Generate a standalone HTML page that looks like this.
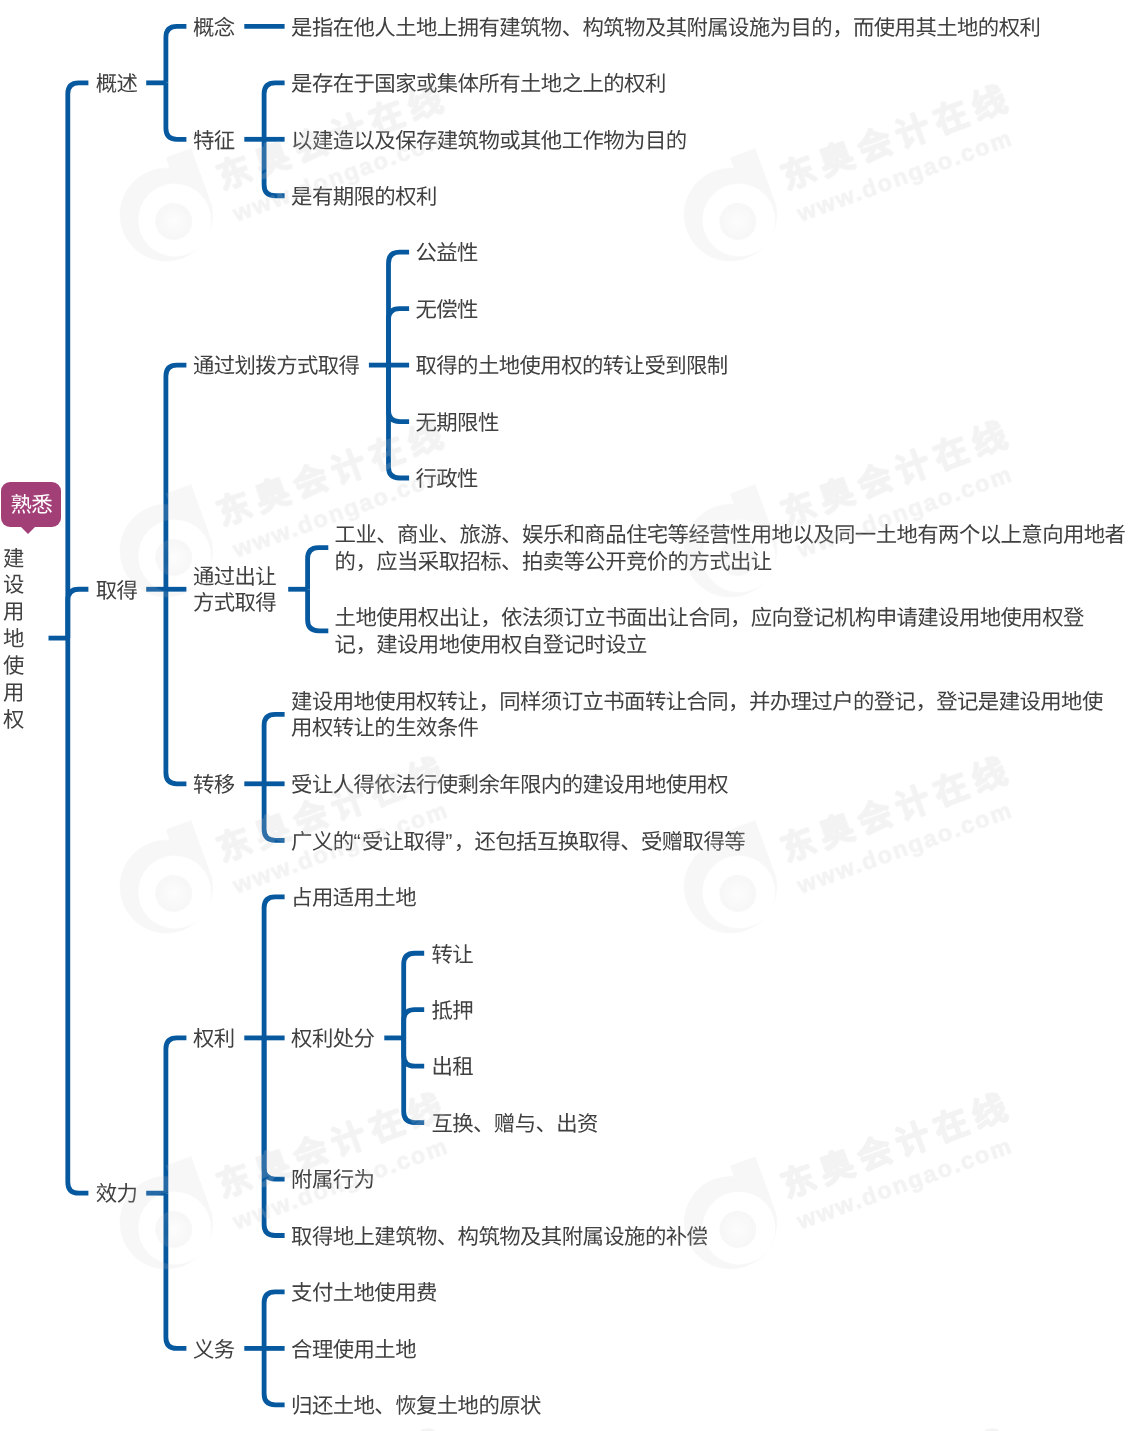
<!DOCTYPE html>
<html lang="zh-CN"><head><meta charset="utf-8"><title>建设用地使用权</title>
<style>
html,body{margin:0;padding:0;background:#fff;}
body{width:1131px;height:1431px;position:relative;overflow:hidden;font-family:"Liberation Sans",sans-serif;color:#404040;font-weight:normal;text-rendering:geometricPrecision;letter-spacing:-0.58px;}
svg{position:absolute;left:0;top:0;}
#txt{position:absolute;left:0;top:0;width:1131px;height:1431px;will-change:transform;}
.t{position:absolute;white-space:nowrap;font-size:21.4px;line-height:26.85px;transform:translateY(-50%);margin-top:1.3px;}
.root{position:absolute;left:3px;top:545.5px;width:21px;font-size:21.4px;line-height:26.85px;text-align:center;}
.badge{position:absolute;left:1.2px;top:482px;width:60px;height:44.6px;border-radius:9px;background:#A33F77;color:#fff;font-size:21.4px;line-height:47.2px;text-align:center;font-weight:normal;}
.badge:after{content:"";position:absolute;left:18.6px;top:44.2px;border-left:8px solid transparent;border-right:8px solid transparent;border-top:8.6px solid #A33F77;}
.q{letter-spacing:1.3px;}
.wm{z-index:5;pointer-events:none;}
</style></head><body>
<svg width="1131" height="1431" viewBox="0 0 1131 1431">
<g fill="none" stroke="#06589F" stroke-width="4.8">
<path d="M48.5 638.1H67.8"/>
<path d="M67.8 638.1V93.85Q67.8 82.85 78.8 82.85H88.4"/>
<path d="M67.8 638.1V600.25Q67.8 589.25 78.8 589.25H88.4"/>
<path d="M67.8 638.1V1182.16Q67.8 1193.16 78.8 1193.16H88.4"/>
<path d="M146.2 82.85H165.9"/>
<path d="M165.9 82.85V37.4Q165.9 26.4 176.9 26.4H186.4"/>
<path d="M165.9 82.85V128.3Q165.9 139.3 176.9 139.3H186.4"/>
<path d="M244.3 26.4H284.6"/>
<path d="M244.3 139.3H264.1"/>
<path d="M264.1 139.3V93.85Q264.1 82.85 275.1 82.85H284.6"/>
<path d="M264.1 139.3H284.6"/>
<path d="M264.1 139.3V184.75Q264.1 195.75 275.1 195.75H284.6"/>
<path d="M146.2 589.25H165.9"/>
<path d="M165.9 589.25V376.1Q165.9 365.1 176.9 365.1H186.4"/>
<path d="M165.9 589.25H186.4"/>
<path d="M165.9 589.25V772.8Q165.9 783.8 176.9 783.8H186.4"/>
<path d="M368.9 365.1H388.5"/>
<path d="M388.5 365.1V263.2Q388.5 252.2 399.5 252.2H409.1"/>
<path d="M388.5 365.1V319.65Q388.5 308.65 399.5 308.65H409.1"/>
<path d="M388.5 365.1H409.1"/>
<path d="M388.5 365.1V410.55Q388.5 421.55 399.5 421.55H409.1"/>
<path d="M388.5 365.1V467Q388.5 478 399.5 478H409.1"/>
<path d="M288.2 589.25H307.6"/>
<path d="M307.6 589.25V558.7Q307.6 547.7 318.6 547.7H328.3"/>
<path d="M307.6 589.25V619.8Q307.6 630.8 318.6 630.8H328.3"/>
<path d="M244.3 783.8H264.1"/>
<path d="M264.1 783.8V725.3Q264.1 714.3 275.1 714.3H284.6"/>
<path d="M264.1 783.8H284.6"/>
<path d="M264.1 783.8V829.3Q264.1 840.3 275.1 840.3H284.6"/>
<path d="M146.2 1193.16H165.9"/>
<path d="M165.9 1193.16V1048.92Q165.9 1037.92 176.9 1037.92H186.4"/>
<path d="M165.9 1193.16V1337.4Q165.9 1348.4 176.9 1348.4H186.4"/>
<path d="M244.3 1037.92H264.1"/>
<path d="M264.1 1037.92V907.8Q264.1 896.8 275.1 896.8H284.6"/>
<path d="M264.1 1037.92H284.6"/>
<path d="M264.1 1037.92V1168.05Q264.1 1179.05 275.1 1179.05H284.6"/>
<path d="M264.1 1037.92V1224.5Q264.1 1235.5 275.1 1235.5H284.6"/>
<path d="M384.3 1037.92H403.7"/>
<path d="M403.7 1037.92V964.25Q403.7 953.25 414.7 953.25H424.2"/>
<path d="M403.7 1037.92V1020.7Q403.7 1009.7 414.7 1009.7H424.2"/>
<path d="M403.7 1037.92V1055.15Q403.7 1066.15 414.7 1066.15H424.2"/>
<path d="M403.7 1037.92V1111.6Q403.7 1122.6 414.7 1122.6H424.2"/>
<path d="M244.3 1348.4H264.1"/>
<path d="M264.1 1348.4V1302.95Q264.1 1291.95 275.1 1291.95H284.6"/>
<path d="M264.1 1348.4H284.6"/>
<path d="M264.1 1348.4V1393.85Q264.1 1404.85 275.1 1404.85H284.6"/>
</g></svg>
<div id="txt">
<div class="badge">熟悉</div>
<div class="root">建<br>设<br>用<br>地<br>使<br>用<br>权</div>
<div class="t" style="left:95.8px;top:82.85px">概述</div>
<div class="t" style="left:95.8px;top:589.25px">取得</div>
<div class="t" style="left:95.8px;top:1193.16px">效力</div>
<div class="t" style="left:192.9px;top:26.4px">概念</div>
<div class="t" style="left:192.9px;top:139.3px">特征</div>
<div class="t" style="left:291.1px;top:26.4px">是指在他人土地上拥有建筑物、构筑物及其附属设施为目的，而使用其土地的权利</div>
<div class="t" style="left:291.1px;top:82.85px">是存在于国家或集体所有土地之上的权利</div>
<div class="t" style="left:291.1px;top:139.3px">以建造以及保存建筑物或其他工作物为目的</div>
<div class="t" style="left:291.1px;top:195.75px">是有期限的权利</div>
<div class="t" style="left:192.9px;top:365.1px">通过划拨方式取得</div>
<div class="t" style="left:415.5px;top:252.2px">公益性</div>
<div class="t" style="left:415.5px;top:308.65px">无偿性</div>
<div class="t" style="left:415.5px;top:365.1px">取得的土地使用权的转让受到限制</div>
<div class="t" style="left:415.5px;top:421.55px">无期限性</div>
<div class="t" style="left:415.5px;top:478px">行政性</div>
<div class="t" style="left:192.9px;top:589.25px">通过出让<br>方式取得</div>
<div class="t" style="left:334.6px;top:547.7px">工业、商业、旅游、娱乐和商品住宅等经营性用地以及同一土地有两个以上意向用地者<br>的，应当采取招标、拍卖等公开竞价的方式出让</div>
<div class="t" style="left:334.6px;top:630.8px">土地使用权出让，依法须订立书面出让合同，应向登记机构申请建设用地使用权登<br>记，建设用地使用权自登记时设立</div>
<div class="t" style="left:192.9px;top:783.8px">转移</div>
<div class="t" style="left:291.1px;top:714.3px">建设用地使用权转让，同样须订立书面转让合同，并办理过户的登记，登记是建设用地使<br>用权转让的生效条件</div>
<div class="t" style="left:291.1px;top:783.8px">受让人得依法行使剩余年限内的建设用地使用权</div>
<div class="t" style="left:291.1px;top:840.3px">广义的<span class="q">“</span>受让取得<span class="q">”</span>，还包括互换取得、受赠取得等</div>
<div class="t" style="left:192.9px;top:1037.92px">权利</div>
<div class="t" style="left:192.9px;top:1348.4px">义务</div>
<div class="t" style="left:291.1px;top:896.8px">占用适用土地</div>
<div class="t" style="left:291.1px;top:1037.92px">权利处分</div>
<div class="t" style="left:291.1px;top:1179.05px">附属行为</div>
<div class="t" style="left:291.1px;top:1235.5px">取得地上建筑物、构筑物及其附属设施的补偿</div>
<div class="t" style="left:431.4px;top:953.25px">转让</div>
<div class="t" style="left:431.4px;top:1009.7px">抵押</div>
<div class="t" style="left:431.4px;top:1066.15px">出租</div>
<div class="t" style="left:431.4px;top:1122.6px">互换、赠与、出资</div>
<div class="t" style="left:291.1px;top:1291.95px">支付土地使用费</div>
<div class="t" style="left:291.1px;top:1348.4px">合理使用土地</div>
<div class="t" style="left:291.1px;top:1404.85px">归还土地、恢复土地的原状</div>
</div>
<svg class="wm" width="1131" height="1431" viewBox="0 0 1131 1431">
<defs>
<radialGradient id="ball"><stop offset="0" stop-color="#cacaca" stop-opacity=".3"/><stop offset="1" stop-color="#cacaca" stop-opacity="1"/></radialGradient>
<g id="wm">
<g opacity=".72"><path fill-rule="evenodd" d="M19 -53.7H46V6.8A46.5 46.5 0 1 1 19 -42.4ZM6 -28.4a36.4 36.4 0 1 0 .01 0Z"/>
<circle cx="4.6" cy="8.9" r="18.4" fill="url(#ball)"/></g>
<text x="61" y="-3.8" font-size="34" font-weight="bold" stroke="#cacaca" stroke-width="1.8" stroke-linejoin="round" textLength="236.5" font-family="Liberation Sans, sans-serif">东奥会计在线</text>
<text x="63.5" y="30.5" font-size="23.5" font-weight="bold" stroke="#cacaca" stroke-width="0.7" textLength="225" font-family="Liberation Sans, sans-serif">www.dongao.com</text>
</g>
</defs>
<g fill="#cacaca" opacity=".22"><use href="#wm" transform="translate(166.3 214.6) rotate(-20)"/><use href="#wm" transform="translate(730.5 214.6) rotate(-20)"/><use href="#wm" transform="translate(166.3 550.6) rotate(-20)"/><use href="#wm" transform="translate(730.5 550.6) rotate(-20)"/><use href="#wm" transform="translate(166.3 886.6) rotate(-20)"/><use href="#wm" transform="translate(730.5 886.6) rotate(-20)"/><use href="#wm" transform="translate(166.3 1222.6) rotate(-20)"/><use href="#wm" transform="translate(730.5 1222.6) rotate(-20)"/><use href="#wm" transform="translate(166.3 1558.6) rotate(-20)"/><use href="#wm" transform="translate(730.5 1558.6) rotate(-20)"/></g>
</svg>
</body></html>
